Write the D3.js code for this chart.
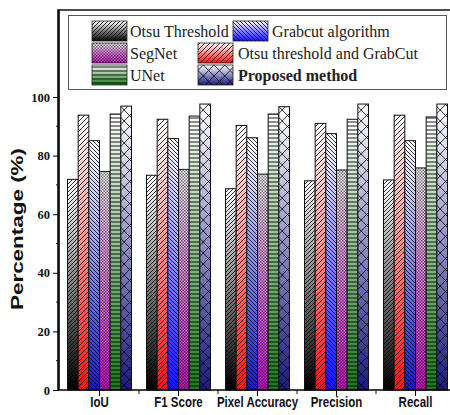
<!DOCTYPE html>
<html>
<head>
<meta charset="utf-8">
<title>Segmentation metrics</title>
<style>
  body { margin: 0; background: #fff; }
  svg { display: block; }
</style>
</head>
<body>
<script src="https://d3js.org/d3.v7.min.js"></script>
<script>

var width = 450,
    height = 415;

// metric groups on the x axis
var groups = ["IoU", "F1 Score", "Pixel Accuracy", "Precision", "Recall"];

// one array per method, in bar order
var otsu      = [71.9, 73.3, 68.7, 71.4, 71.7];
var otsuGrab  = [93.8, 92.4, 90.3, 91.0, 93.8];
var grabcut   = [85.1, 85.8, 86.1, 87.5, 85.1];
var segnet    = [74.6, 75.3, 73.7, 75.1, 75.8];
var unet      = [94.2, 93.5, 94.2, 92.4, 93.2];
var proposed  = [96.9, 97.6, 96.7, 97.6, 97.6];

var yTicks = [0, 20, 40, 60, 80, 100];

var series = [
  {key: "otsu",     name: "Otsu Threshold",            color: "#000000", pat: "diagR",  values: otsu},
  {key: "otsuGrab", name: "Otsu threshold and GrabCut", color: "#ff1010", pat: "diagR2", values: otsuGrab},
  {key: "grabcut",  name: "Grabcut algorithm",         color: "#1010ff", pat: "diagL",  values: grabcut},
  {key: "segnet",   name: "SegNet",                    color: "#cc10cc", pat: "check",  values: segnet},
  {key: "unet",     name: "UNet",                      color: "#1a7a1a", pat: "horiz",  values: unet},
  {key: "proposed", name: "Proposed method",           color: "#1a1a80", pat: "cross",  values: proposed}
];

// legend order (two columns, three rows)
var legendOrder = ["otsu", "grabcut", "segnet", "otsuGrab", "unet", "proposed"];

var svg = d3.select("body").append("svg")
    .attr("width", width)
    .attr("height", height);

var defs = svg.append("defs");

// vertical white -> colour gradient for every method
series.forEach(function (s) {
  var g = defs.append("linearGradient")
      .attr("id", "grad-" + s.key)
      .attr("x1", 0).attr("y1", 0).attr("x2", 0).attr("y2", 1);
  g.append("stop").attr("offset", "0%").attr("stop-color", "#ffffff");
  g.append("stop").attr("offset", "100%").attr("stop-color", s.color);
});

function pattern(id, w, h, d, sw) {
  defs.append("pattern")
      .attr("id", id)
      .attr("patternUnits", "userSpaceOnUse")
      .attr("width", w).attr("height", h)
    .append("path")
      .attr("d", d)
      .attr("stroke", "#000")
      .attr("stroke-width", sw)
      .attr("fill", "none");
}
pattern("diagR", 4, 4, "M0,4L4,0M-1,1L1,-1M3,5L5,3", 0.8);
pattern("diagR2", 5, 5, "M0,5L5,0M-1,1L1,-1M4,6L6,4", 0.8);
pattern("diagL", 4, 4, "M0,0L4,4M-1,3L1,5M3,-1L5,1", 0.8);
pattern("horiz", 4, 4, "M0,2H4", 0.9);
pattern("cross", 10.7, 11, "M0,0L10.7,11M10.7,0L0,11", 0.8);
// fine checker for SegNet
var chk = defs.append("pattern")
    .attr("id", "check")
    .attr("patternUnits", "userSpaceOnUse")
    .attr("width", 3).attr("height", 3);
chk.append("rect").attr("width", 1.5).attr("height", 1.5).attr("fill", "#000").attr("fill-opacity", 0.55);
chk.append("rect").attr("x", 1.5).attr("y", 1.5).attr("width", 1.5).attr("height", 1.5).attr("fill", "#000").attr("fill-opacity", 0.55);

// scales
var x0 = d3.scaleBand().domain(groups).range([60, 455]);
var x1 = d3.scaleBand().domain(series.map(function (s) { return s.key; }))
    .range([7.5, x0.bandwidth() - 7.5]);
var y = d3.scaleLinear().domain([0, 129.7]).range([390, 10]);

// bars
var g = svg.selectAll("g.group")
  .data(groups)
  .enter().append("g")
    .attr("class", "group")
    .attr("transform", function (d) { return "translate(" + x0(d) + ",0)"; });

series.forEach(function (s) {
  var bars = g.append("g").datum(function (d, i) { return s.values[i]; });
  bars.append("rect")
      .attr("x", x1(s.key))
      .attr("y", function (v) { return y(v); })
      .attr("width", x1.bandwidth())
      .attr("height", function (v) { return y(0) - y(v); })
      .attr("fill", "url(#grad-" + s.key + ")");
  bars.append("rect")
      .attr("x", x1(s.key))
      .attr("y", function (v) { return y(v); })
      .attr("width", x1.bandwidth())
      .attr("height", function (v) { return y(0) - y(v); })
      .attr("fill", "url(#" + s.pat + ")")
      .attr("stroke", "#111")
      .attr("stroke-width", 1);
});

// frame (right edge falls outside the picture)
svg.append("path")
    .attr("d", "M58," + y(0) + "V10H460")
    .attr("fill", "none")
    .attr("stroke", "#111")
    .attr("stroke-width", 1.6);

// y axis
var yAxis = d3.axisLeft(y)
    .tickValues(yTicks)
    .tickSize(6)
    .tickPadding(3);
var ya = svg.append("g")
    .attr("transform", "translate(59,0)")
    .call(yAxis);
ya.select(".domain").attr("d", "M0," + y(0) + "V10").attr("stroke-width", 1.6);
ya.selectAll("text")
    .style("font-family", "'Liberation Serif', 'Times New Roman', serif")
    .style("font-weight", "bold")
    .style("font-size", "12.5px")
    .attr("fill", "#111");
var minor = d3.range(10, 110, 20);
ya.selectAll(".minor")
  .data(minor)
  .enter().append("line")
    .attr("class", "minor")
    .attr("x1", -3).attr("x2", 0)
    .attr("y1", function (d) { return y(d); })
    .attr("y2", function (d) { return y(d); })
    .attr("stroke", "#111");

// x axis
var xAxis = d3.axisBottom(x0).tickSize(6).tickPadding(1).tickSizeOuter(0);
var xa = svg.append("g")
    .attr("transform", "translate(0," + y(0) + ")")
    .call(xAxis);
xa.select(".domain").attr("d", "M58,0H460").attr("stroke-width", 1.6);
// narrow bold sans look
xa.selectAll("text")
    .style("font-family", "'Liberation Sans', Arial, sans-serif")
    .style("font-weight", "bold")
    .style("font-size", "14px")
    .attr("fill", "#111")
    .attr("transform", "scale(0.82,1)");
xa.selectAll(".boundary")
  .data(groups.slice(1))
  .enter().append("line")
    .attr("class", "boundary")
    .attr("x1", function (d) { return x0(d); })
    .attr("x2", function (d) { return x0(d); })
    .attr("y1", 0).attr("y2", 4)
    .attr("stroke", "#111");

// y label
svg.append("text")
    .attr("transform", "translate(23,229) rotate(-90)")
    .attr("text-anchor", "middle")
    .style("font-family", "'Liberation Sans', Arial, sans-serif")
    .style("font-weight", "bold")
    .style("font-size", "16px")
    .attr("fill", "#111")
    .attr("textLength", 162)
    .attr("lengthAdjust", "spacingAndGlyphs")
    .text("Percentage (%)");

// legend
svg.append("rect")
    .attr("x", 68.5).attr("y", 15.5)
    .attr("width", 378).attr("height", 74)
    .attr("fill", "#fff")
    .attr("stroke", "#555")
    .attr("stroke-width", 1);

var legendPos = [
  {sx: 92, tx: 130}, {sx: 233, tx: 272},
  {sx: 92, tx: 130}, {sx: 198, tx: 238},
  {sx: 92, tx: 130}, {sx: 198, tx: 238}
];
var byKey = {};
series.forEach(function (s) { byKey[s.key] = s; });

var li = svg.selectAll("g.legend")
  .data(legendOrder)
  .enter().append("g")
    .attr("class", "legend")
    .attr("transform", function (d, i) { return "translate(0," + (21 + Math.floor(i / 2) * 22) + ")"; });
li.each(function (k, i) {
  var s = byKey[k], p = legendPos[i], el = d3.select(this);
  el.append("rect").attr("x", p.sx).attr("y", 0).attr("width", 35).attr("height", 20)
      .attr("fill", "url(#grad-" + k + ")");
  el.append("rect").attr("x", p.sx).attr("y", 0).attr("width", 35).attr("height", 20)
      .attr("fill", "url(#" + s.pat + ")")
      .attr("stroke", "#222").attr("stroke-width", 0.8);
  el.append("text")
      .attr("x", p.tx).attr("y", 15.5)
      .style("font-family", "'Liberation Serif', 'Times New Roman', serif")
      .style("font-size", "16px")
      .style("font-weight", k === "proposed" ? "bold" : "normal")
      .attr("fill", "#222")
      .text(s.name);
});

</script>
</body>
</html>
